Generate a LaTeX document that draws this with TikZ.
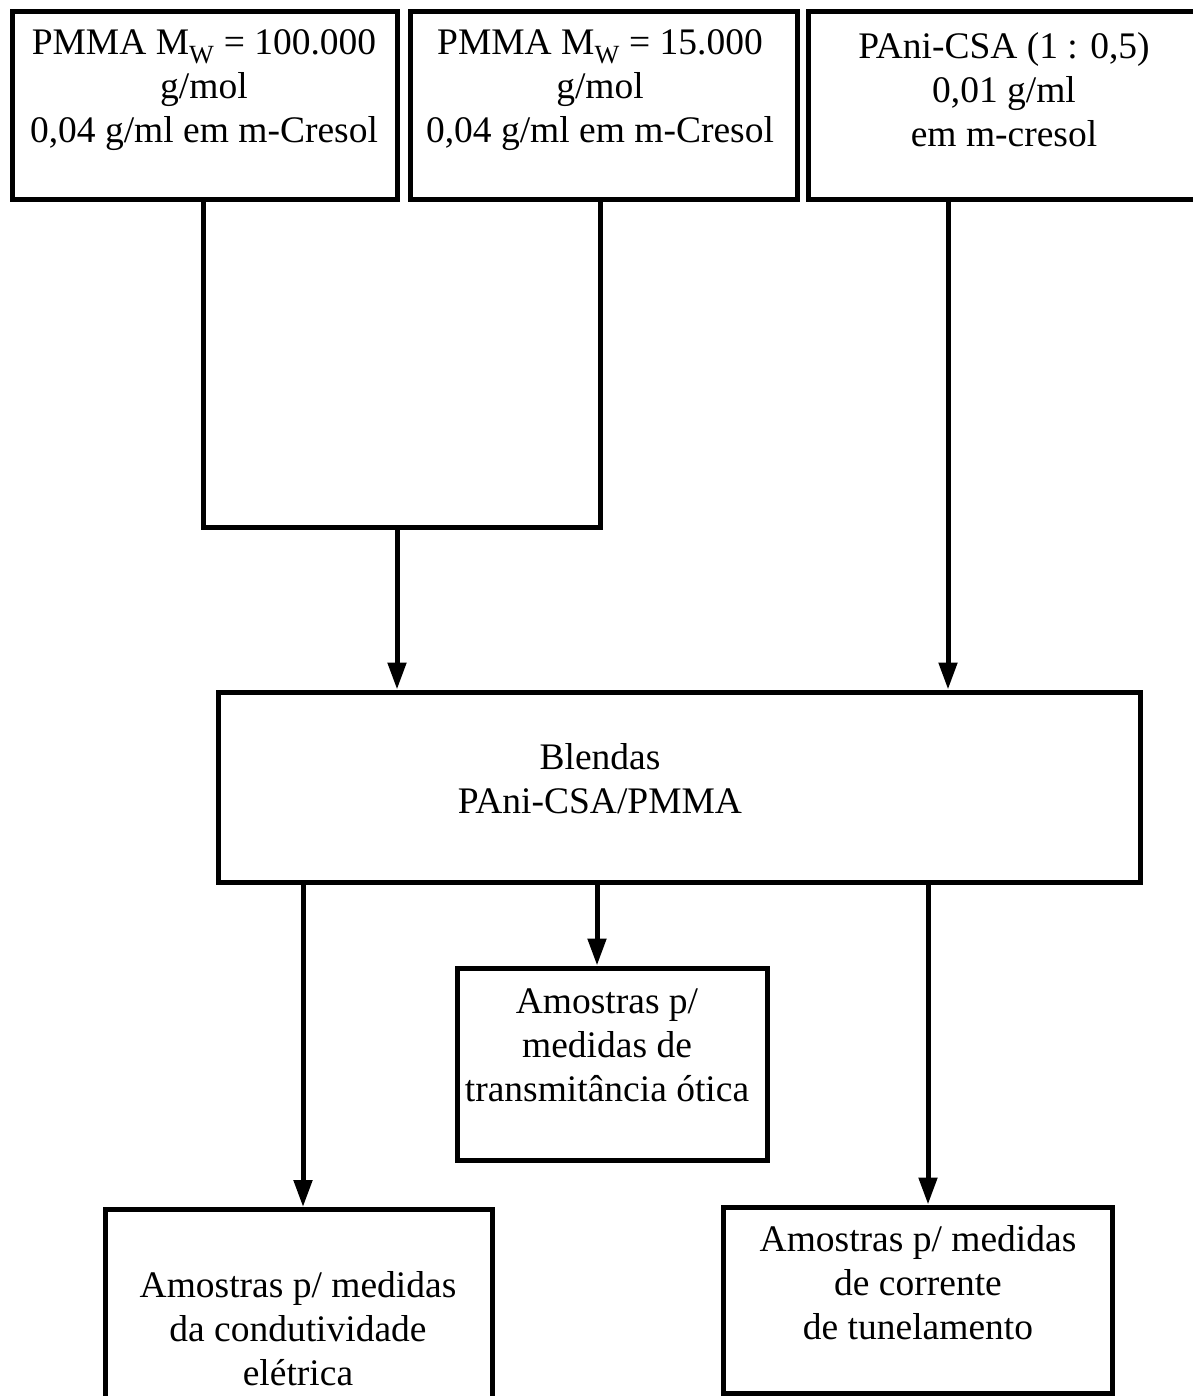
\documentclass[tikz,border=0pt]{standalone}
\usepackage{fontspec}
\setmainfont{Liberation Serif}
\usetikzlibrary{arrows.meta}
\begin{document}
\begin{tikzpicture}[x=1pt,y=-1pt,
  boxst/.style={draw,line width=5pt,rectangle,inner sep=0pt},
  txt/.style={align=center,inner sep=0pt,font=\fontsize{37.5}{44}\selectfont},
  conn/.style={line width=5pt},
  arr/.style={line width=5pt,-{Triangle[length=27pt,width=18pt]}}]
\useasboundingbox (0,0) rectangle (1192,1396);
% top boxes
\node[boxst,minimum width=385pt,minimum height=188pt] (b1) at (204.5,106) {};
\node[boxst,minimum width=387pt,minimum height=188pt] (b2) at (603.5,106) {};
\node[boxst,minimum width=392pt,minimum height=188pt] (b3) at (1004,106) {};
\node[txt] (t1) at (204,90) {PMMA M\textsubscript{W} = 100.000\\g/mol\\0,04 g/ml em m-Cresol};
\node[txt] (t2) at (600,90) {PMMA M\textsubscript{W} = 15.000\\g/mol\\0,04 g/ml em m-Cresol};
\node[txt] (t3) at (1004,90) {PAni-CSA (1 : 0,5)\\0,01 g/ml\\em m-cresol};
% blend box
\node[boxst,minimum width=922pt,minimum height=190pt] (bl) at (679,787) {};
\node[txt] (tb) at (600,779) {Blendas\\PAni-CSA/PMMA};
% bottom boxes
\node[boxst,minimum width=310pt,minimum height=192pt] (m) at (612,1064) {};
\node[txt] (tm) at (607,1045) {Amostras p/\\medidas de\\transmitância ótica};
\node[boxst,minimum width=387pt,minimum height=195pt] (l) at (298.5,1307) {};
\node[txt] (tl) at (298,1329) {Amostras p/ medidas\\da condutividade\\elétrica};
\node[boxst,minimum width=389pt,minimum height=186pt] (r) at (917.5,1300) {};
\node[txt] (tr) at (918,1283) {Amostras p/ medidas\\de corrente\\de tunelamento};
% connectors
\coordinate (j) at (397,527);
\draw[conn] (203,0 |- b1.south) |- (j) -| (600,0 |- b2.south);
\draw[arr] (j) -- (j |- bl.north);
\draw[arr] (948,0 |- b3.south) -- (948,0 |- bl.north);
\draw[arr] (303,0 |- bl.south) -- (303,0 |- l.north);
\draw[arr] (597,0 |- bl.south) -- (597,0 |- m.north);
\draw[arr] (928,0 |- bl.south) -- (928,0 |- r.north);
\end{tikzpicture}
\end{document}
